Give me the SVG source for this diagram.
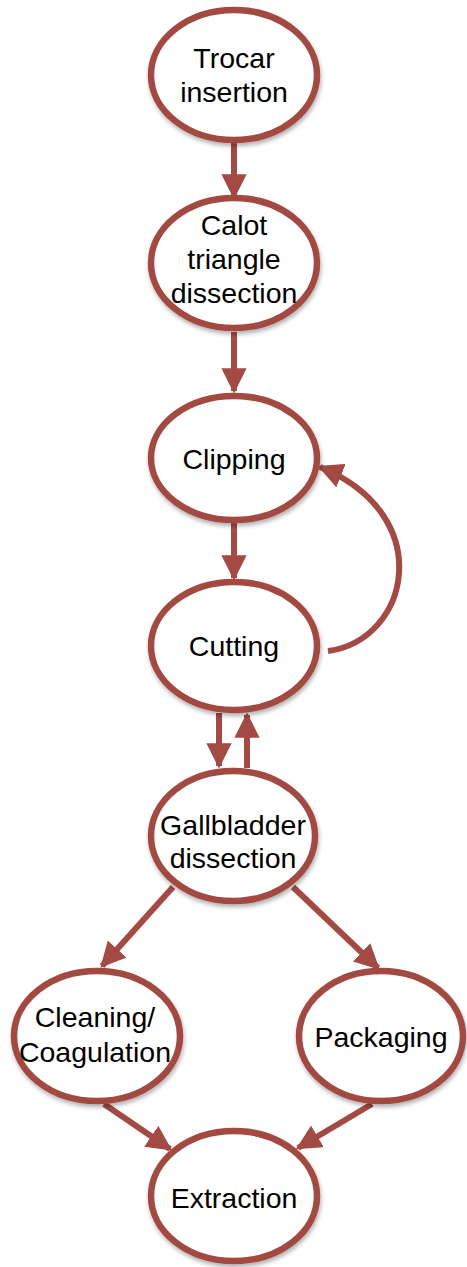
<svg xmlns="http://www.w3.org/2000/svg" width="467" height="1267" viewBox="0 0 467 1267">
<defs>
<style>
.node ellipse{fill:#fff;stroke:#A24A43;stroke-width:6.5;filter:url(#sh)}
.node text{font-family:"Liberation Sans",Arial,sans-serif;font-size:28.5px;fill:#000;text-anchor:middle}
.edges path{fill:none;stroke:#A24A43;stroke-width:6;marker-end:url(#ah)}
</style>
<filter id="sh" x="-20%" y="-20%" width="140%" height="140%">
<feDropShadow dx="1" dy="3" stdDeviation="2" flood-color="#000" flood-opacity="0.3"/>
</filter>
<marker id="ah" viewBox="0 0 10 10" refX="9" refY="5" markerWidth="4.2" markerHeight="4.2" orient="auto" markerUnits="strokeWidth">
<path d="M0,0 L10,5 L0,10 Z" fill="#A24A43"/>
</marker>
</defs>
<g class="edges">
<path d="M234,143 L234,197"/>
<path d="M234,332 L234,391"/>
<path d="M234,523 L234,578"/>
<path d="M219,713 L219,766"/>
<path d="M247,768 L247,715"/>
<path d="M328,651 C410,640 438,515 320,467"/>
<path d="M173,887 L102,966"/>
<path d="M293,887 L378,968"/>
<path d="M104,1104 L170,1149"/>
<path d="M372,1104 L298,1148"/>
</g>
<g id="trocar" class="node"><ellipse cx="234" cy="75" rx="83" ry="65"/><text x="234" y="68">Trocar</text><text x="234" y="102">insertion</text></g>
<g id="calot" class="node"><ellipse cx="234" cy="263" rx="83" ry="65"/><text x="234" y="235">Calot</text><text x="234" y="269">triangle</text><text x="234" y="303">dissection</text></g>
<g id="clipping" class="node"><ellipse cx="234" cy="458" rx="83" ry="62"/><text x="234" y="469">Clipping</text></g>
<g id="cutting" class="node"><ellipse cx="234" cy="646" rx="83" ry="64"/><text x="234" y="656">Cutting</text></g>
<g id="gallbladder" class="node"><ellipse cx="233" cy="836" rx="82" ry="65"/><text x="233" y="835">Gallbladder</text><text x="233" y="868">dissection</text></g>
<g id="cleaning" class="node"><ellipse cx="97" cy="1036" rx="83" ry="65"/><text x="95" y="1027">Cleaning/</text><text x="95" y="1062">Coagulation</text></g>
<g id="packaging" class="node"><ellipse cx="381" cy="1036" rx="82" ry="65"/><text x="381" y="1047">Packaging</text></g>
<g id="extraction" class="node"><ellipse cx="234" cy="1196" rx="83" ry="65"/><text x="234" y="1208">Extraction</text></g>
</svg>
